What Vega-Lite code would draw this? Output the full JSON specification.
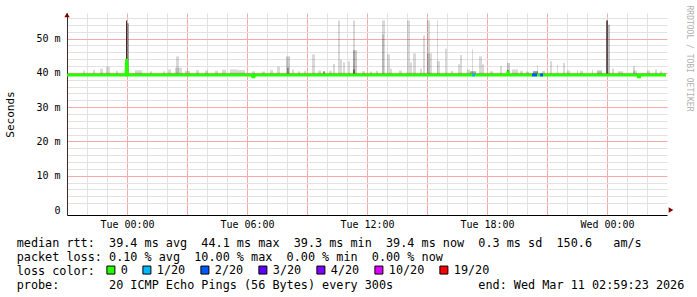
{
  "$schema": "https://vega.github.io/schema/vega-lite/v6.json",
  "width": 600,
  "height": 202,
  "autosize": {"type": "none"},
  "padding": {"left": 67, "top": 13, "right": 30, "bottom": 82},
  "background": "#ffffff",
  "config": {"view": {"stroke": null}, "font": "DejaVu Sans Mono"},
  "title": {
    "text": [
      "median rtt:\u00a0\u00a039.4 ms avg\u00a0\u00a044.1 ms max\u00a0\u00a039.3 ms min\u00a0\u00a039.4 ms now\u00a0\u00a00.3 ms sd\u00a0\u00a0150.6\u00a0\u00a0\u00a0am/s",
      "packet loss: 0.10 % avg\u00a0\u00a010.00 % max\u00a0\u00a00.00 % min\u00a0\u00a00.00 % now",
      "loss color:",
      "probe:\u00a0\u00a0\u00a0\u00a0\u00a0\u00a0\u00a020 ICMP Echo Pings (56 Bytes) every 300s\u00a0\u00a0\u00a0\u00a0\u00a0\u00a0\u00a0\u00a0\u00a0\u00a0\u00a0\u00a0end: Wed Mar 11 02:59:23 2026"
    ],
    "orient": "bottom",
    "anchor": "start",
    "frame": "group",
    "align": "left",
    "baseline": "top",
    "font": "DejaVu Sans Mono",
    "fontSize": 11.8,
    "fontWeight": "normal",
    "color": "#000000",
    "lineHeight": 14,
    "dx": -50.3,
    "offset": -39
  },
  "datasets": {
    "smoke": [
      {"t": "2026-03-09T21:00:00Z", "t2": "2026-03-11T02:57:00Z", "lo": 39.2, "hi": 40.1, "pings": 2},
      {"t": "2026-03-09T21:48:00Z", "t2": "2026-03-09T21:54:00Z", "lo": 39.2, "hi": 40.7, "pings": 3},
      {"t": "2026-03-09T22:18:00Z", "t2": "2026-03-09T22:24:00Z", "lo": 39.2, "hi": 40.8, "pings": 3},
      {"t": "2026-03-09T22:39:00Z", "t2": "2026-03-09T22:48:00Z", "lo": 39.2, "hi": 41.2, "pings": 3},
      {"t": "2026-03-09T22:57:00Z", "t2": "2026-03-09T23:09:00Z", "lo": 39.2, "hi": 41.8, "pings": 3},
      {"t": "2026-03-09T23:27:00Z", "t2": "2026-03-09T23:33:00Z", "lo": 39.2, "hi": 40.6, "pings": 3},
      {"t": "2026-03-09T23:57:00Z", "t2": "2026-03-10T00:00:00Z", "lo": 39.0, "hi": 55.3, "pings": 16},
      {"t": "2026-03-10T00:00:00Z", "t2": "2026-03-10T00:06:00Z", "lo": 39.2, "hi": 54.5, "pings": 7},
      {"t": "2026-03-10T00:24:00Z", "t2": "2026-03-10T00:45:00Z", "lo": 39.2, "hi": 40.8, "pings": 3},
      {"t": "2026-03-10T01:09:00Z", "t2": "2026-03-10T01:15:00Z", "lo": 39.2, "hi": 40.5, "pings": 3},
      {"t": "2026-03-10T01:48:00Z", "t2": "2026-03-10T01:54:00Z", "lo": 39.2, "hi": 40.5, "pings": 3},
      {"t": "2026-03-10T02:03:00Z", "t2": "2026-03-10T02:12:00Z", "lo": 39.2, "hi": 41.0, "pings": 3},
      {"t": "2026-03-10T02:27:00Z", "t2": "2026-03-10T02:36:00Z", "lo": 39.2, "hi": 44.8, "pings": 3},
      {"t": "2026-03-10T02:24:00Z", "t2": "2026-03-10T02:45:00Z", "lo": 39.2, "hi": 41.5, "pings": 3},
      {"t": "2026-03-10T02:54:00Z", "t2": "2026-03-10T03:09:00Z", "lo": 39.2, "hi": 40.6, "pings": 3},
      {"t": "2026-03-10T03:27:00Z", "t2": "2026-03-10T03:36:00Z", "lo": 39.2, "hi": 40.8, "pings": 3},
      {"t": "2026-03-10T03:54:00Z", "t2": "2026-03-10T04:03:00Z", "lo": 39.2, "hi": 40.7, "pings": 3},
      {"t": "2026-03-10T04:24:00Z", "t2": "2026-03-10T04:33:00Z", "lo": 39.2, "hi": 40.6, "pings": 3},
      {"t": "2026-03-10T04:45:00Z", "t2": "2026-03-10T04:57:00Z", "lo": 39.2, "hi": 40.9, "pings": 3},
      {"t": "2026-03-10T05:09:00Z", "t2": "2026-03-10T05:30:00Z", "lo": 39.2, "hi": 41.0, "pings": 3},
      {"t": "2026-03-10T05:30:00Z", "t2": "2026-03-10T05:54:00Z", "lo": 39.2, "hi": 40.8, "pings": 3},
      {"t": "2026-03-10T06:15:00Z", "t2": "2026-03-10T06:24:00Z", "lo": 39.2, "hi": 40.5, "pings": 3},
      {"t": "2026-03-10T06:45:00Z", "t2": "2026-03-10T06:54:00Z", "lo": 39.2, "hi": 40.4, "pings": 3},
      {"t": "2026-03-10T07:09:00Z", "t2": "2026-03-10T07:18:00Z", "lo": 39.2, "hi": 40.8, "pings": 3},
      {"t": "2026-03-10T07:30:00Z", "t2": "2026-03-10T07:39:00Z", "lo": 39.2, "hi": 41.8, "pings": 3},
      {"t": "2026-03-10T07:57:00Z", "t2": "2026-03-10T08:09:00Z", "lo": 39.2, "hi": 44.8, "pings": 4},
      {"t": "2026-03-10T08:00:00Z", "t2": "2026-03-10T08:06:00Z", "lo": 39.2, "hi": 41.5, "pings": 6},
      {"t": "2026-03-10T08:15:00Z", "t2": "2026-03-10T08:21:00Z", "lo": 39.2, "hi": 41.0, "pings": 3},
      {"t": "2026-03-10T08:33:00Z", "t2": "2026-03-10T08:39:00Z", "lo": 39.2, "hi": 40.5, "pings": 3},
      {"t": "2026-03-10T08:51:00Z", "t2": "2026-03-10T08:57:00Z", "lo": 39.2, "hi": 40.6, "pings": 3},
      {"t": "2026-03-10T09:15:00Z", "t2": "2026-03-10T09:24:00Z", "lo": 39.2, "hi": 45.4, "pings": 3},
      {"t": "2026-03-10T09:33:00Z", "t2": "2026-03-10T09:42:00Z", "lo": 39.2, "hi": 40.7, "pings": 3},
      {"t": "2026-03-10T09:48:00Z", "t2": "2026-03-10T09:54:00Z", "lo": 39.2, "hi": 40.5, "pings": 8},
      {"t": "2026-03-10T10:06:00Z", "t2": "2026-03-10T10:15:00Z", "lo": 39.2, "hi": 40.6, "pings": 3},
      {"t": "2026-03-10T10:18:00Z", "t2": "2026-03-10T10:24:00Z", "lo": 39.2, "hi": 42.6, "pings": 3},
      {"t": "2026-03-10T10:33:00Z", "t2": "2026-03-10T10:39:00Z", "lo": 39.2, "hi": 55.3, "pings": 3},
      {"t": "2026-03-10T10:39:00Z", "t2": "2026-03-10T10:45:00Z", "lo": 39.2, "hi": 43.8, "pings": 3},
      {"t": "2026-03-10T10:48:00Z", "t2": "2026-03-10T10:54:00Z", "lo": 39.2, "hi": 43.1, "pings": 3},
      {"t": "2026-03-10T11:03:00Z", "t2": "2026-03-10T11:09:00Z", "lo": 39.2, "hi": 43.4, "pings": 3},
      {"t": "2026-03-10T11:18:00Z", "t2": "2026-03-10T11:24:00Z", "lo": 39.2, "hi": 55.3, "pings": 3},
      {"t": "2026-03-10T11:18:00Z", "t2": "2026-03-10T11:24:00Z", "lo": 39.2, "hi": 46.6, "pings": 5},
      {"t": "2026-03-10T11:18:00Z", "t2": "2026-03-10T11:24:00Z", "lo": 39.2, "hi": 41.0, "pings": 8},
      {"t": "2026-03-10T11:24:00Z", "t2": "2026-03-10T11:30:00Z", "lo": 39.2, "hi": 46.6, "pings": 4},
      {"t": "2026-03-10T11:45:00Z", "t2": "2026-03-10T11:54:00Z", "lo": 39.2, "hi": 40.5, "pings": 3},
      {"t": "2026-03-10T12:09:00Z", "t2": "2026-03-10T12:15:00Z", "lo": 39.2, "hi": 40.4, "pings": 3},
      {"t": "2026-03-10T12:27:00Z", "t2": "2026-03-10T12:33:00Z", "lo": 39.2, "hi": 40.6, "pings": 3},
      {"t": "2026-03-10T12:45:00Z", "t2": "2026-03-10T12:54:00Z", "lo": 39.2, "hi": 55.3, "pings": 3},
      {"t": "2026-03-10T12:45:00Z", "t2": "2026-03-10T12:51:00Z", "lo": 39.2, "hi": 51.2, "pings": 3},
      {"t": "2026-03-10T13:00:00Z", "t2": "2026-03-10T13:09:00Z", "lo": 39.2, "hi": 45.4, "pings": 3},
      {"t": "2026-03-10T13:09:00Z", "t2": "2026-03-10T13:15:00Z", "lo": 39.2, "hi": 41.2, "pings": 3},
      {"t": "2026-03-10T13:36:00Z", "t2": "2026-03-10T13:45:00Z", "lo": 39.2, "hi": 40.7, "pings": 3},
      {"t": "2026-03-10T14:00:00Z", "t2": "2026-03-10T14:09:00Z", "lo": 39.2, "hi": 55.3, "pings": 3},
      {"t": "2026-03-10T14:09:00Z", "t2": "2026-03-10T14:15:00Z", "lo": 39.2, "hi": 43.0, "pings": 3},
      {"t": "2026-03-10T14:18:00Z", "t2": "2026-03-10T14:27:00Z", "lo": 39.2, "hi": 45.7, "pings": 3},
      {"t": "2026-03-10T14:39:00Z", "t2": "2026-03-10T14:45:00Z", "lo": 39.2, "hi": 41.2, "pings": 3},
      {"t": "2026-03-10T14:48:00Z", "t2": "2026-03-10T14:54:00Z", "lo": 39.2, "hi": 50.9, "pings": 3},
      {"t": "2026-03-10T15:00:00Z", "t2": "2026-03-10T15:09:00Z", "lo": 39.2, "hi": 55.3, "pings": 3},
      {"t": "2026-03-10T15:00:00Z", "t2": "2026-03-10T15:15:00Z", "lo": 39.2, "hi": 45.7, "pings": 3},
      {"t": "2026-03-10T15:30:00Z", "t2": "2026-03-10T15:33:00Z", "lo": 39.2, "hi": 55.3, "pings": 3},
      {"t": "2026-03-10T15:30:00Z", "t2": "2026-03-10T15:39:00Z", "lo": 39.2, "hi": 43.4, "pings": 3},
      {"t": "2026-03-10T15:54:00Z", "t2": "2026-03-10T16:00:00Z", "lo": 39.2, "hi": 47.0, "pings": 3},
      {"t": "2026-03-10T16:12:00Z", "t2": "2026-03-10T16:18:00Z", "lo": 39.2, "hi": 40.6, "pings": 3},
      {"t": "2026-03-10T16:33:00Z", "t2": "2026-03-10T16:39:00Z", "lo": 39.2, "hi": 42.5, "pings": 3},
      {"t": "2026-03-10T16:39:00Z", "t2": "2026-03-10T16:45:00Z", "lo": 39.2, "hi": 45.2, "pings": 3},
      {"t": "2026-03-10T17:00:00Z", "t2": "2026-03-10T17:09:00Z", "lo": 39.2, "hi": 41.0, "pings": 3},
      {"t": "2026-03-10T17:15:00Z", "t2": "2026-03-10T17:18:00Z", "lo": 39.2, "hi": 46.9, "pings": 3},
      {"t": "2026-03-10T17:09:00Z", "t2": "2026-03-10T17:27:00Z", "lo": 39.2, "hi": 40.5, "pings": 6},
      {"t": "2026-03-10T17:36:00Z", "t2": "2026-03-10T17:45:00Z", "lo": 39.2, "hi": 44.8, "pings": 3},
      {"t": "2026-03-10T17:45:00Z", "t2": "2026-03-10T17:51:00Z", "lo": 39.2, "hi": 42.5, "pings": 3},
      {"t": "2026-03-10T18:09:00Z", "t2": "2026-03-10T18:18:00Z", "lo": 39.2, "hi": 40.5, "pings": 3},
      {"t": "2026-03-10T18:39:00Z", "t2": "2026-03-10T18:45:00Z", "lo": 39.2, "hi": 42.0, "pings": 3},
      {"t": "2026-03-10T19:00:00Z", "t2": "2026-03-10T19:09:00Z", "lo": 39.2, "hi": 42.9, "pings": 4},
      {"t": "2026-03-10T19:00:00Z", "t2": "2026-03-10T19:06:00Z", "lo": 39.2, "hi": 40.8, "pings": 8},
      {"t": "2026-03-10T19:15:00Z", "t2": "2026-03-10T19:33:00Z", "lo": 39.2, "hi": 41.0, "pings": 3},
      {"t": "2026-03-10T19:39:00Z", "t2": "2026-03-10T19:48:00Z", "lo": 39.2, "hi": 40.6, "pings": 3},
      {"t": "2026-03-10T19:57:00Z", "t2": "2026-03-10T20:06:00Z", "lo": 39.2, "hi": 40.4, "pings": 3},
      {"t": "2026-03-10T20:18:00Z", "t2": "2026-03-10T20:33:00Z", "lo": 39.2, "hi": 40.5, "pings": 8},
      {"t": "2026-03-10T20:30:00Z", "t2": "2026-03-10T20:33:00Z", "lo": 39.2, "hi": 42.3, "pings": 3},
      {"t": "2026-03-10T20:45:00Z", "t2": "2026-03-10T20:54:00Z", "lo": 39.2, "hi": 40.6, "pings": 3},
      {"t": "2026-03-10T21:09:00Z", "t2": "2026-03-10T21:15:00Z", "lo": 39.2, "hi": 43.4, "pings": 3},
      {"t": "2026-03-10T21:30:00Z", "t2": "2026-03-10T21:33:00Z", "lo": 39.2, "hi": 42.3, "pings": 3},
      {"t": "2026-03-10T21:48:00Z", "t2": "2026-03-10T21:54:00Z", "lo": 39.2, "hi": 42.9, "pings": 3},
      {"t": "2026-03-10T22:00:00Z", "t2": "2026-03-10T22:09:00Z", "lo": 39.2, "hi": 40.7, "pings": 3},
      {"t": "2026-03-10T22:30:00Z", "t2": "2026-03-10T22:33:00Z", "lo": 39.2, "hi": 40.8, "pings": 3},
      {"t": "2026-03-10T22:39:00Z", "t2": "2026-03-10T22:48:00Z", "lo": 39.2, "hi": 40.6, "pings": 3},
      {"t": "2026-03-10T23:15:00Z", "t2": "2026-03-10T23:18:00Z", "lo": 39.2, "hi": 41.0, "pings": 3},
      {"t": "2026-03-10T23:30:00Z", "t2": "2026-03-10T23:45:00Z", "lo": 39.2, "hi": 40.7, "pings": 5},
      {"t": "2026-03-10T23:57:00Z", "t2": "2026-03-11T00:03:00Z", "lo": 39.2, "hi": 55.3, "pings": 12},
      {"t": "2026-03-11T00:03:00Z", "t2": "2026-03-11T00:09:00Z", "lo": 39.2, "hi": 54.0, "pings": 5},
      {"t": "2026-03-11T00:15:00Z", "t2": "2026-03-11T00:21:00Z", "lo": 39.2, "hi": 41.2, "pings": 3},
      {"t": "2026-03-11T00:33:00Z", "t2": "2026-03-11T00:48:00Z", "lo": 39.2, "hi": 40.5, "pings": 3},
      {"t": "2026-03-11T01:18:00Z", "t2": "2026-03-11T01:24:00Z", "lo": 39.2, "hi": 42.0, "pings": 3},
      {"t": "2026-03-11T01:18:00Z", "t2": "2026-03-11T01:30:00Z", "lo": 39.2, "hi": 40.7, "pings": 3},
      {"t": "2026-03-11T02:00:00Z", "t2": "2026-03-11T02:09:00Z", "lo": 39.2, "hi": 40.7, "pings": 3},
      {"t": "2026-03-11T02:24:00Z", "t2": "2026-03-11T02:30:00Z", "lo": 39.2, "hi": 41.0, "pings": 3},
      {"t": "2026-03-11T02:39:00Z", "t2": "2026-03-11T02:45:00Z", "lo": 39.2, "hi": 40.5, "pings": 3}
    ],
    "median": [
      {"t": "2026-03-09T21:00:00Z", "median": 39.4},
      {"t": "2026-03-09T23:57:00Z", "median": 39.4},
      {"t": "2026-03-09T23:59:00Z", "median": 44.1},
      {"t": "2026-03-10T00:01:00Z", "median": 40.1},
      {"t": "2026-03-10T00:04:00Z", "median": 39.4},
      {"t": "2026-03-10T06:15:00Z", "median": 39.4},
      {"t": "2026-03-10T06:17:00Z", "median": 38.9},
      {"t": "2026-03-10T06:21:00Z", "median": 38.9},
      {"t": "2026-03-10T06:23:00Z", "median": 39.4},
      {"t": "2026-03-10T19:01:00Z", "median": 39.4},
      {"t": "2026-03-10T19:03:00Z", "median": 40.4},
      {"t": "2026-03-10T19:05:00Z", "median": 39.4},
      {"t": "2026-03-11T01:32:00Z", "median": 39.4},
      {"t": "2026-03-11T01:34:00Z", "median": 38.9},
      {"t": "2026-03-11T01:38:00Z", "median": 38.9},
      {"t": "2026-03-11T01:40:00Z", "median": 39.4},
      {"t": "2026-03-11T02:57:00Z", "median": 39.4}
    ],
    "loss": [
      {"t": "2026-03-10T17:15:00Z", "t2": "2026-03-10T17:24:00Z", "median": 39.4, "loss": "1/20"},
      {"t": "2026-03-10T20:15:00Z", "t2": "2026-03-10T20:30:00Z", "median": 39.4, "loss": "2/20"},
      {"t": "2026-03-10T20:39:00Z", "t2": "2026-03-10T20:48:00Z", "median": 39.4, "loss": "2/20"}
    ]
  },
  "layer": [
    {
      "data": {"name": "smoke"},
      "mark": {"type": "rect", "color": "#000000"},
      "encoding": {
        "x": {
          "field": "t", "type": "temporal",
          "scale": {"type": "utc", "domain": [{"year": 2026, "month": 3, "date": 9, "hours": 21, "utc": true}, {"year": 2026, "month": 3, "date": 11, "hours": 3, "utc": true}]},
          "axis": {"orient": "bottom", "grid": true, "gridColor": "#e2e2e2", "gridWidth": 1, "labels": false, "ticks": false, "domain": false, "title": null,
            "values": [
              {"year": 2026, "month": 3, "date": 9, "hours": 22, "utc": true}, {"year": 2026, "month": 3, "date": 9, "hours": 23, "utc": true},
              {"year": 2026, "month": 3, "date": 10, "hours": 1, "utc": true}, {"year": 2026, "month": 3, "date": 10, "hours": 2, "utc": true},
              {"year": 2026, "month": 3, "date": 10, "hours": 4, "utc": true}, {"year": 2026, "month": 3, "date": 10, "hours": 5, "utc": true},
              {"year": 2026, "month": 3, "date": 10, "hours": 7, "utc": true}, {"year": 2026, "month": 3, "date": 10, "hours": 8, "utc": true},
              {"year": 2026, "month": 3, "date": 10, "hours": 10, "utc": true}, {"year": 2026, "month": 3, "date": 10, "hours": 11, "utc": true},
              {"year": 2026, "month": 3, "date": 10, "hours": 13, "utc": true}, {"year": 2026, "month": 3, "date": 10, "hours": 14, "utc": true},
              {"year": 2026, "month": 3, "date": 10, "hours": 16, "utc": true}, {"year": 2026, "month": 3, "date": 10, "hours": 17, "utc": true},
              {"year": 2026, "month": 3, "date": 10, "hours": 19, "utc": true}, {"year": 2026, "month": 3, "date": 10, "hours": 20, "utc": true},
              {"year": 2026, "month": 3, "date": 10, "hours": 22, "utc": true}, {"year": 2026, "month": 3, "date": 10, "hours": 23, "utc": true},
              {"year": 2026, "month": 3, "date": 11, "hours": 1, "utc": true}, {"year": 2026, "month": 3, "date": 11, "hours": 2, "utc": true}
            ]}
        },
        "x2": {"field": "t2"},
        "y": {
          "field": "lo", "type": "quantitative",
          "scale": {"domain": [0, 56], "nice": false, "zero": true},
          "axis": {"orient": "left", "grid": true, "gridColor": "#e2e2e2", "gridWidth": 1, "labels": false, "ticks": false, "domain": false, "title": null, "values": [2, 4, 6, 8, 12, 14, 16, 18, 22, 24, 26, 28, 32, 34, 36, 38, 42, 44, 46, 48, 52, 54, 56]}
        },
        "y2": {"field": "hi"},
        "opacity": {"field": "pings", "type": "quantitative", "scale": {"domain": [0, 20], "range": [0, 1]}, "legend": null}
      }
    },
    {
      "data": {"name": "median"},
      "mark": {"type": "line", "strokeWidth": 3, "interpolate": "linear", "strokeCap": "butt", "color": "#26ff00"},
      "encoding": {
        "x": {
          "field": "t", "type": "temporal",
          "scale": {"type": "utc", "domain": [{"year": 2026, "month": 3, "date": 9, "hours": 21, "utc": true}, {"year": 2026, "month": 3, "date": 11, "hours": 3, "utc": true}]},
          "axis": {"orient": "bottom", "grid": false, "values": [{"year": 2026, "month": 3, "date": 10, "hours": 0, "utc": true}, {"year": 2026, "month": 3, "date": 10, "hours": 6, "utc": true}, {"year": 2026, "month": 3, "date": 10, "hours": 12, "utc": true}, {"year": 2026, "month": 3, "date": 10, "hours": 18, "utc": true}, {"year": 2026, "month": 3, "date": 11, "hours": 0, "utc": true}], "labelExpr": "utcFormat(datum.value, '%a %H:%M')", "labelFont": "DejaVu Sans Mono", "labelFontSize": 10, "labelColor": "#000000", "labelPadding": 4, "ticks": false, "tickSize": 0, "domain": true, "domainColor": "#000000", "domainWidth": 1, "title": null, "labelFlush": false, "labelOverlap": false}
        },
        "y": {
          "field": "median", "type": "quantitative",
          "scale": {"domain": [0, 56], "nice": false, "zero": true},
          "axis": {"orient": "left", "grid": false, "values": [0, 10, 20, 30, 40, 50], "labelExpr": "datum.value == 0 ? '0' : datum.value + ' m'", "labelFont": "DejaVu Sans Mono", "labelFontSize": 10, "labelColor": "#000000", "labelPadding": 7, "ticks": false, "tickSize": 0, "domain": true, "domainColor": "#402828", "domainWidth": 1, "title": "Seconds", "titleFont": "DejaVu Sans Mono", "titleFontSize": 11, "titleFontWeight": "normal", "titleColor": "#000000", "titleX": -57, "titleY": 101, "titleAngle": 270, "titleAlign": "center", "titleBaseline": "middle"}
        }
      }
    },
    {
      "data": {"name": "loss"},
      "mark": {"type": "bar", "orient": "horizontal", "size": 3},
      "encoding": {
        "x": {
          "field": "t", "type": "temporal",
          "scale": {"type": "utc", "domain": [{"year": 2026, "month": 3, "date": 9, "hours": 21, "utc": true}, {"year": 2026, "month": 3, "date": 11, "hours": 3, "utc": true}]},
          "axis": {"orient": "bottom", "grid": true, "gridColor": "#f6aaaa", "gridWidth": 1, "labels": false, "ticks": false, "domain": false, "title": null,
            "values": [
              {"year": 2026, "month": 3, "date": 10, "hours": 0, "utc": true}, {"year": 2026, "month": 3, "date": 10, "hours": 3, "utc": true},
              {"year": 2026, "month": 3, "date": 10, "hours": 6, "utc": true}, {"year": 2026, "month": 3, "date": 10, "hours": 9, "utc": true},
              {"year": 2026, "month": 3, "date": 10, "hours": 12, "utc": true}, {"year": 2026, "month": 3, "date": 10, "hours": 15, "utc": true},
              {"year": 2026, "month": 3, "date": 10, "hours": 18, "utc": true}, {"year": 2026, "month": 3, "date": 10, "hours": 21, "utc": true},
              {"year": 2026, "month": 3, "date": 11, "hours": 0, "utc": true}
            ]}
        },
        "x2": {"field": "t2"},
        "y": {
          "field": "median", "type": "quantitative",
          "scale": {"domain": [0, 56], "nice": false, "zero": true},
          "axis": {"orient": "right", "grid": true, "gridColor": "#f6aaaa", "gridWidth": 1, "values": [10, 20, 30, 40, 50], "labels": false, "ticks": false, "domain": false, "title": "RRDTOOL / TOBI OETIKER", "titleFont": "DejaVu Sans Mono", "titleFontSize": 8, "titleFontWeight": "normal", "titleColor": "#b0b0b0", "titleAngle": 90, "titleAlign": "left", "titleBaseline": "middle", "titleX": 21, "titleY": -8}
        },
        "color": {
          "field": "loss", "type": "nominal",
          "scale": {"domain": ["0", "1/20", "2/20", "3/20", "4/20", "10/20", "19/20"], "range": ["#26ff00", "#00b8ff", "#0059ff", "#5e00ff", "#7e00ff", "#dd00ff", "#ff0000"]},
          "legend": {
            "orient": "none", "legendX": 38, "legendY": 251, "direction": "horizontal", "title": null,
            "symbolType": "square", "symbolSize": 64, "symbolStrokeWidth": 1, "symbolStrokeColor": "#000000", "symbolOpacity": 1,
            "labelFont": "DejaVu Sans Mono", "labelFontSize": 11.8, "labelColor": "#000000", "labelOffset": 4, "columnPadding": 12, "padding": 0,
            "labelExpr": "datum.label == '4/20' ? '4/20\u00a0' : datum.label"
          }
        }
      }
    },
    {
      "data": {"values": [{}]},
      "mark": {"type": "point", "shape": "triangle-up", "filled": true, "color": "#7f0000", "opacity": 1, "size": 28, "yOffset": -3},
      "encoding": {
        "x": {"datum": 1773090000000, "type": "temporal", "axis": null},
        "y": {"datum": 56, "type": "quantitative", "axis": null}
      }
    },
    {
      "data": {"values": [{}]},
      "mark": {"type": "point", "shape": "triangle-right", "filled": true, "color": "#7f0000", "opacity": 1, "size": 28, "xOffset": 4},
      "encoding": {
        "x": {"datum": 1773198000000, "type": "temporal", "axis": null},
        "y": {"datum": 0, "type": "quantitative", "axis": null}
      }
    }
  ],
  "resolve": {"axis": {"x": "independent", "y": "independent"}}
}
